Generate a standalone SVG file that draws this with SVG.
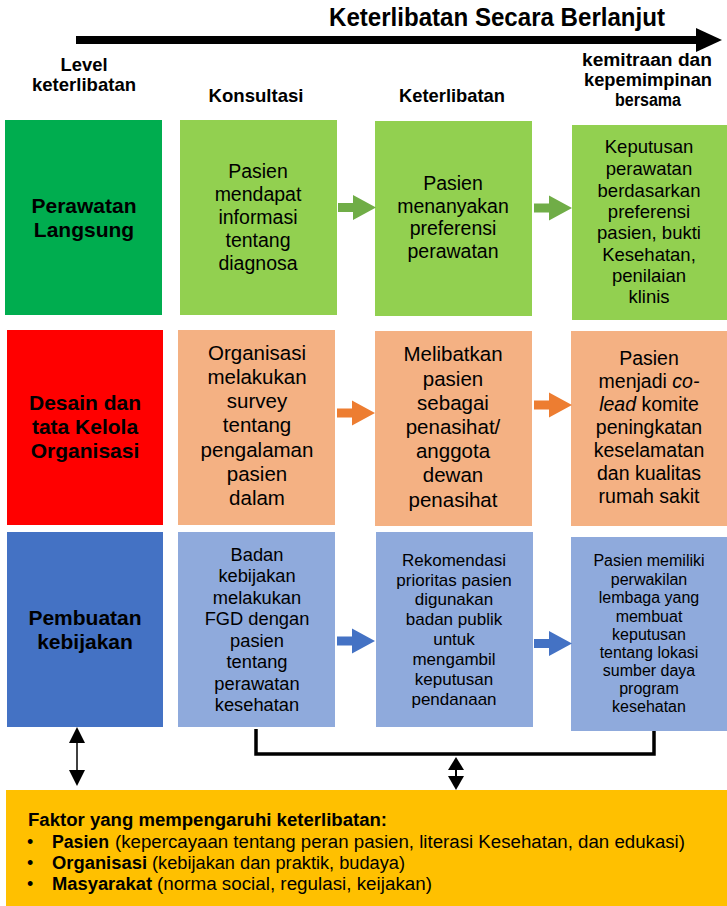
<svg xmlns="http://www.w3.org/2000/svg" xmlns:xlink="http://www.w3.org/1999/xlink" width="727" height="906" viewBox="0 0 727 906">
<style>
.hd{font-family:"Liberation Sans Narrow","Liberation Sans",Arial,sans-serif;font-weight:bold;fill:#000;text-anchor:middle}
.lbl{font-family:"Liberation Sans",Arial,sans-serif;font-weight:bold;font-size:21px;fill:#000;text-anchor:middle}
.bx{font-family:"Liberation Sans",Arial,sans-serif;fill:#000;text-anchor:middle}
.ft{font-family:"Liberation Sans",Arial,sans-serif;font-size:18px;fill:#000}
.ln{stroke:#000;fill:none}
</style>
<defs>
<path id="blk" d="M0,-4.5 H15 V-12.5 L38,0 L15,12.5 V4.5 H0 Z"/>
</defs>
<rect width="727" height="906" fill="#fff"/>

<g id="header">
<text class="hd" x="497" y="26" font-size="25" textLength="336" lengthAdjust="spacingAndGlyphs">Keterlibatan Secara Berlanjut</text>
<path d="M76,40 H700" stroke="#000" stroke-width="8"/>
<polygon points="696,28 722,40 696,52" fill="#000"/>
<text class="hd" font-size="19" x="84" y="71" textLength="47" lengthAdjust="spacingAndGlyphs">Level</text>
<text class="hd" font-size="19" x="84" y="91" textLength="104" lengthAdjust="spacingAndGlyphs">keterlibatan</text>
<text class="hd" font-size="19" x="256" y="102" textLength="95" lengthAdjust="spacingAndGlyphs">Konsultasi</text>
<text class="hd" font-size="19" x="452" y="102" textLength="106" lengthAdjust="spacingAndGlyphs">Keterlibatan</text>
<text class="hd" font-size="18" x="647" y="66" textLength="130" lengthAdjust="spacingAndGlyphs">kemitraan dan</text>
<text class="hd" font-size="18" x="648" y="86" textLength="128" lengthAdjust="spacingAndGlyphs">kepemimpinan</text>
<text class="hd" font-size="18" x="648" y="106" textLength="66" lengthAdjust="spacingAndGlyphs">bersama</text>
</g>

<g id="row1-level">
<rect x="5" y="120" width="157" height="195" fill="#00AD4F"/>
<text class="lbl"><tspan x="84" y="213">Perawatan</tspan><tspan x="84" y="237">Langsung</tspan></text>
</g>
<g id="row1-konsultasi">
<rect x="180" y="120" width="157" height="195" fill="#92D050"/>
<text class="bx" font-size="19.5"><tspan x="258" y="178">Pasien</tspan><tspan x="258" y="201">mendapat</tspan><tspan x="258" y="224">informasi</tspan><tspan x="258" y="247">tentang</tspan><tspan x="258" y="270">diagnosa</tspan></text>
</g>
<g id="row1-keterlibatan">
<rect x="375" y="121" width="157" height="195" fill="#92D050"/>
<text class="bx" font-size="19.5"><tspan x="453" y="190">Pasien</tspan><tspan x="453" y="213">menanyakan</tspan><tspan x="453" y="235">preferensi</tspan><tspan x="453" y="258">perawatan</tspan></text>
</g>
<g id="row1-kemitraan">
<rect x="572" y="125" width="155" height="195" fill="#92D050"/>
<text class="bx" font-size="18.5"><tspan x="649" y="153">Keputusan</tspan><tspan x="649" y="175">perawatan</tspan><tspan x="649" y="197">berdasarkan</tspan><tspan x="649" y="218">preferensi</tspan><tspan x="649" y="239">pasien, bukti</tspan><tspan x="649" y="261">Kesehatan,</tspan><tspan x="649" y="282">penilaian</tspan><tspan x="649" y="303">klinis</tspan></text>
</g>

<g id="row2-level">
<rect x="7" y="330" width="156" height="195" fill="#FF0000"/>
<text class="lbl"><tspan x="85" y="410">Desain dan</tspan><tspan x="85" y="434">tata Kelola</tspan><tspan x="85" y="458">Organisasi</tspan></text>
</g>
<g id="row2-konsultasi">
<rect x="178" y="330" width="157" height="195" fill="#F4B183"/>
<text class="bx" font-size="20.5"><tspan x="257" y="360">Organisasi</tspan><tspan x="257" y="384">melakukan</tspan><tspan x="257" y="408">survey</tspan><tspan x="257" y="432">tentang</tspan><tspan x="257" y="457">pengalaman</tspan><tspan x="257" y="481">pasien</tspan><tspan x="257" y="505">dalam</tspan></text>
</g>
<g id="row2-keterlibatan">
<rect x="375" y="331" width="157" height="195" fill="#F4B183"/>
<text class="bx" font-size="20.5"><tspan x="453" y="361">Melibatkan</tspan><tspan x="453" y="386">pasien</tspan><tspan x="453" y="410">sebagai</tspan><tspan x="453" y="434">penasihat/</tspan><tspan x="453" y="458">anggota</tspan><tspan x="453" y="482">dewan</tspan><tspan x="453" y="507">penasihat</tspan></text>
</g>
<g id="row2-kemitraan">
<rect x="571" y="331" width="156" height="195" fill="#F4B183"/>
<text class="bx" font-size="19.5"><tspan x="649" y="365">Pasien</tspan><tspan x="649" y="388">menjadi <tspan font-style="italic">co-</tspan></tspan><tspan x="649" y="411"><tspan font-style="italic">lead</tspan> komite</tspan><tspan x="649" y="434">peningkatan</tspan><tspan x="649" y="457">keselamatan</tspan><tspan x="649" y="480">dan kualitas</tspan><tspan x="649" y="503">rumah sakit</tspan></text>
</g>

<g id="row3-level">
<rect x="7" y="532" width="156" height="195" fill="#4472C4"/>
<text class="lbl"><tspan x="85" y="625">Pembuatan</tspan><tspan x="85" y="649">kebijakan</tspan></text>
</g>
<g id="row3-konsultasi">
<rect x="178" y="532" width="157" height="195" fill="#8FAADC"/>
<text class="bx" font-size="18.3"><tspan x="257" y="561">Badan</tspan><tspan x="257" y="582">kebijakan</tspan><tspan x="257" y="604">melakukan</tspan><tspan x="257" y="625">FGD dengan</tspan><tspan x="257" y="647">pasien</tspan><tspan x="257" y="668">tentang</tspan><tspan x="257" y="690">perawatan</tspan><tspan x="257" y="711">kesehatan</tspan></text>
</g>
<g id="row3-keterlibatan">
<rect x="376" y="532" width="157" height="195" fill="#8FAADC"/>
<text class="bx" font-size="17"><tspan x="454" y="566">Rekomendasi</tspan><tspan x="454" y="586">prioritas pasien</tspan><tspan x="454" y="605">digunakan</tspan><tspan x="454" y="625">badan publik</tspan><tspan x="454" y="645">untuk</tspan><tspan x="454" y="665">mengambil</tspan><tspan x="454" y="685">keputusan</tspan><tspan x="454" y="705">pendanaan</tspan></text>
</g>
<g id="row3-kemitraan">
<rect x="571" y="537" width="156" height="194" fill="#8FAADC"/>
<text class="bx" font-size="16"><tspan x="649" y="566">Pasien memiliki</tspan><tspan x="649" y="585">perwakilan</tspan><tspan x="649" y="603">lembaga yang</tspan><tspan x="649" y="622">membuat</tspan><tspan x="649" y="640">keputusan</tspan><tspan x="649" y="658">tentang lokasi</tspan><tspan x="649" y="676">sumber daya</tspan><tspan x="649" y="694">program</tspan><tspan x="649" y="712">kesehatan</tspan></text>
</g>

<g id="factors">
<rect x="6" y="790" width="721" height="116" fill="#FFC000"/>
<text class="ft" x="28" y="826" font-weight="bold" font-size="19" textLength="359" lengthAdjust="spacingAndGlyphs">Faktor yang mempengaruhi keterlibatan:</text>
<text class="ft" x="27" y="848" font-size="16">•</text>
<text class="ft" x="52" y="848" font-weight="bold" textLength="57" lengthAdjust="spacingAndGlyphs">Pasien</text>
<text class="ft" x="115" y="848" textLength="570" lengthAdjust="spacingAndGlyphs">(kepercayaan tentang peran pasien, literasi Kesehatan, dan edukasi)</text>
<text class="ft" x="27" y="869" font-size="16">•</text>
<text class="ft" x="52" y="869" font-weight="bold" textLength="95" lengthAdjust="spacingAndGlyphs">Organisasi</text>
<text class="ft" x="152" y="869" textLength="253" lengthAdjust="spacingAndGlyphs">(kebijakan dan praktik, budaya)</text>
<text class="ft" x="27" y="890" font-size="16">•</text>
<text class="ft" x="52" y="890" font-weight="bold" textLength="100" lengthAdjust="spacingAndGlyphs">Masyarakat</text>
<text class="ft" x="157" y="890" textLength="275" lengthAdjust="spacingAndGlyphs">(norma social, regulasi, keijakan)</text>
</g>

<g id="connectors">
<use xlink:href="#blk" href="#blk" x="338" y="207.5" fill="#70AD47"/>
<use xlink:href="#blk" href="#blk" x="534" y="208" fill="#70AD47"/>
<use xlink:href="#blk" href="#blk" x="337" y="413" fill="#ED7D31"/>
<use xlink:href="#blk" href="#blk" x="534" y="405" fill="#ED7D31"/>
<use xlink:href="#blk" href="#blk" x="337" y="641" fill="#4472C4"/>
<use xlink:href="#blk" href="#blk" x="534" y="643.5" fill="#4472C4"/>
<path class="ln" d="M77,743 V770" stroke-width="1.5"/>
<polygon points="77,727 69,743 85,743" fill="#000"/>
<polygon points="77,786 69,770 85,770" fill="#000"/>
<path class="ln" d="M256,729 V754 H654 V731" stroke-width="3.5"/>
<path class="ln" d="M456,770 V777" stroke-width="2"/>
<polygon points="456,757 448,770 464,770" fill="#000"/>
<polygon points="456,790 448,776 464,776" fill="#000"/>
</g>
</svg>
